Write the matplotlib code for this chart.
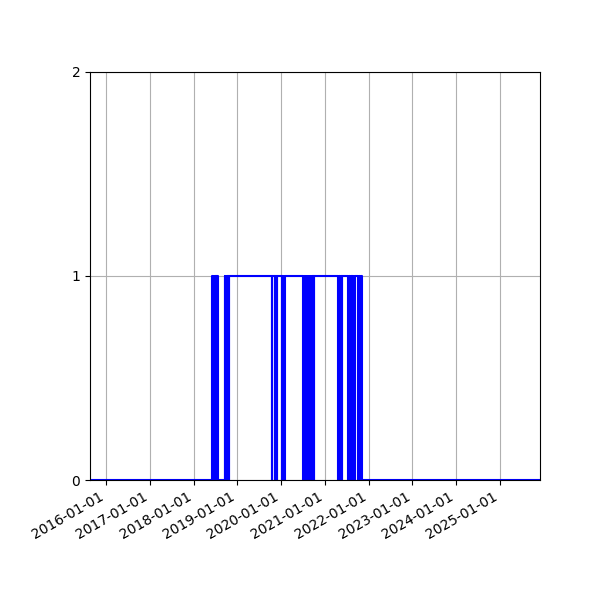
import matplotlib
matplotlib.use("Agg")
import matplotlib.pyplot as plt
import matplotlib.dates as mdates
import pandas as pd

change_dates = [
    "2015-08-21",
    # block 2018 mid-year
    "2018-06-01", "2018-06-04", "2018-06-07", "2018-06-10", "2018-06-13",
    "2018-06-16", "2018-06-19", "2018-06-22", "2018-06-25", "2018-06-28",
    "2018-07-01", "2018-07-04", "2018-07-10", "2018-07-14", "2018-07-18",
    "2018-07-24",
    # block autumn 2018
    "2018-09-20", "2018-09-24", "2018-09-28", "2018-10-02", "2018-10-08",
    "2018-10-12", "2018-10-17", "2018-10-21", "2018-10-26",
    # dips 2019/2020
    "2019-10-14", "2019-10-20",
    "2019-11-11", "2019-11-15", "2019-11-24", "2019-11-29",
    "2020-01-06", "2020-01-12", "2020-01-18", "2020-01-24", "2020-01-28", "2020-02-03",
    # dense block 2020
    "2020-07-05", "2020-07-09", "2020-07-13", "2020-07-17", "2020-07-21",
    "2020-07-25", "2020-07-29", "2020-08-02", "2020-08-06", "2020-08-10",
    "2020-08-14", "2020-08-18", "2020-08-22", "2020-08-26", "2020-08-30",
    "2020-09-03", "2020-09-07", "2020-09-11", "2020-09-15", "2020-09-19",
    "2020-09-23", "2020-09-27", "2020-10-01", "2020-10-05", "2020-10-10",
    # 2021
    "2021-04-23", "2021-04-29", "2021-05-05", "2021-05-12", "2021-05-20",
    "2021-05-27", "2021-06-03",
    "2021-07-15", "2021-07-22", "2021-07-28", "2021-08-04",
    "2021-08-21", "2021-08-28", "2021-09-04", "2021-09-10", "2021-09-17",
    "2021-10-06", "2021-10-13", "2021-10-20", "2021-10-27", "2021-11-03",
    "2025-11-30",
]
change_values = [
    0,
    1, 0, 1, 0, 1,
    0, 1, 0, 1, 0,
    1, 0, 1, 0, 1,
    0,
    1, 0, 1, 0, 1,
    0, 1, 0, 1,
    0, 1,
    0, 1, 0, 1,
    0, 1, 0, 1, 0, 1,
    0, 1, 0, 1, 0,
    1, 0, 1, 0, 1,
    0, 1, 0, 1, 0,
    1, 0, 1, 0, 1,
    0, 1, 0, 1, 1,
    0, 1, 0, 1, 0,
    1, 1,
    0, 1, 0, 1,
    0, 1, 0, 1, 1,
    0, 1, 0, 1, 0,
    0,
]

y_ticks = [0, 1, 2]
x_start = "2015-08-21"
x_end = "2025-11-30"

dates = pd.to_datetime(change_dates)

fig = plt.figure(figsize=(6, 6), dpi=100)
ax = fig.add_axes([0.15, 0.2, 0.75, 0.68])
ax.step(dates, change_values, where="post", color="blue", linewidth=1.5)
ax.set_xlim(pd.Timestamp(x_start), pd.Timestamp(x_end))
ax.set_ylim(0, 2)
ax.set_yticks(y_ticks)
ax.xaxis.set_major_locator(mdates.YearLocator())
ax.xaxis.set_major_formatter(mdates.DateFormatter("%Y-%m-%d"))
for lbl in ax.get_xticklabels():
    lbl.set_rotation(30)
    lbl.set_ha("right")
ax.grid(True)
fig.savefig("out.png", dpi=100)
